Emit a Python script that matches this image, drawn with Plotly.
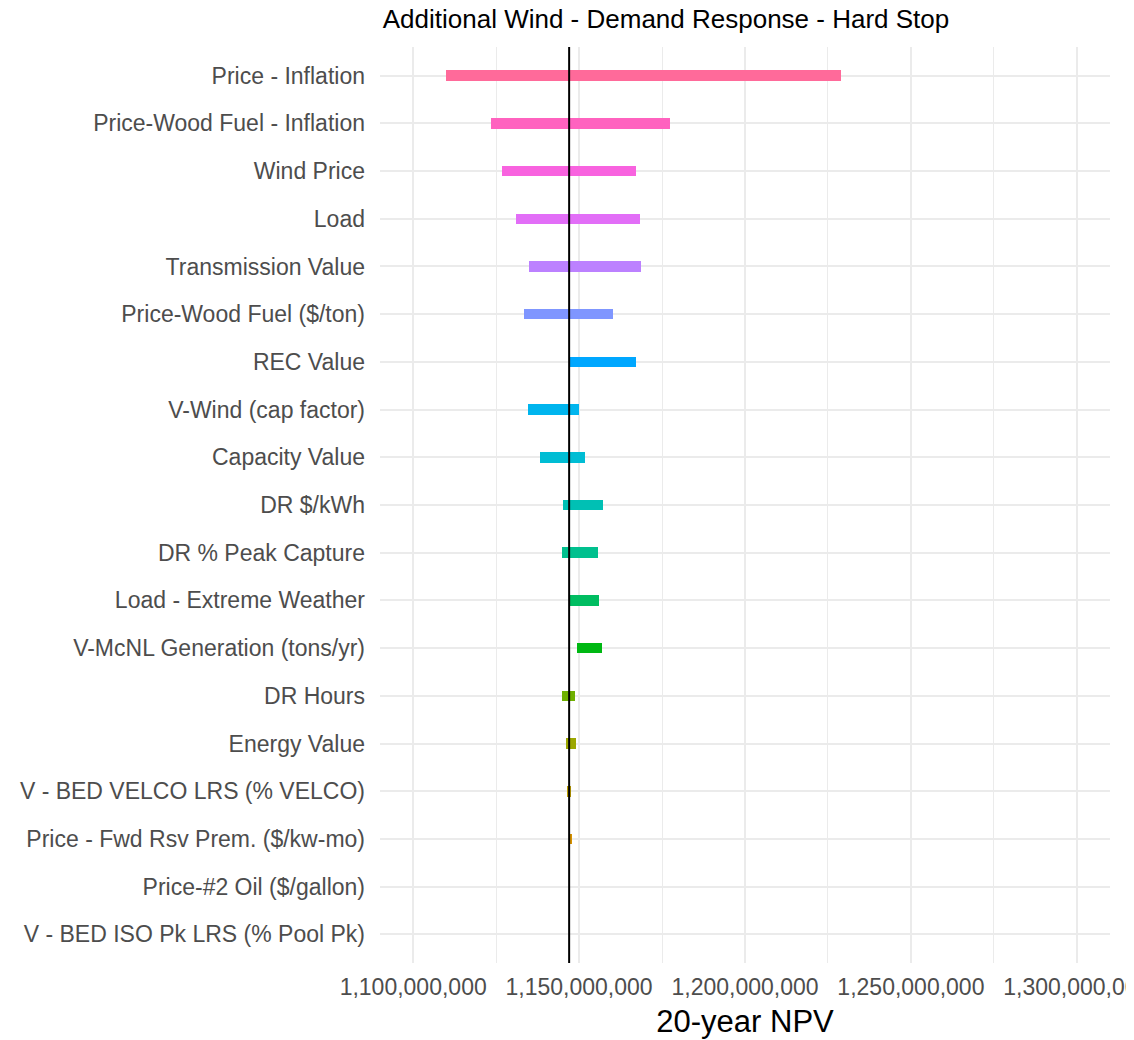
import math
import plotly.graph_objects as go

# ---- data (top to bottom) ----
categories = [
    "Price - Inflation",
    "Price-Wood Fuel - Inflation",
    "Wind Price",
    "Load",
    "Transmission Value",
    "Price-Wood Fuel ($/ton)",
    "REC Value",
    "V-Wind (cap factor)",
    "Capacity Value",
    "DR $/kWh",
    "DR % Peak Capture",
    "Load - Extreme Weather",
    "V-McNL Generation (tons/yr)",
    "DR Hours",
    "Energy Value",
    "V - BED VELCO LRS (% VELCO)",
    "Price - Fwd Rsv Prem. ($/kw-mo)",
    "Price-#2 Oil ($/gallon)",
    "V - BED ISO Pk LRS (% Pool Pk)",
]
low_npv = [
    1109.9e6, 1123.3e6, 1126.9e6, 1130.9e6, 1134.9e6, 1133.4e6, 1147.2e6,
    1134.5e6, 1138.1e6, 1145.0e6, 1144.8e6, 1147.1e6, 1149.4e6, 1144.8e6,
    1146.1e6, 1146.3e6, 1147.0e6, 1147.0e6, 1147.0e6,
]
high_npv = [
    1229.0e6, 1177.3e6, 1167.2e6, 1168.3e6, 1168.7e6, 1160.1e6, 1167.0e6,
    1149.9e6, 1151.7e6, 1157.1e6, 1155.8e6, 1156.0e6, 1156.9e6, 1148.8e6,
    1149.2e6, 1147.7e6, 1148.0e6, 1147.0e6, 1147.0e6,
]
base_npv = 1147.0e6
x_ticks = [1.10e9, 1.15e9, 1.20e9, 1.25e9, 1.30e9]

title_text = "Additional Wind - Demand Response - Hard Stop"
x_title = "20-year NPV"


# ---- ggplot2 default hue palette ----
def hcl_hex(h, c=100.0, l=65.0):
    hr = math.radians(h)
    u = c * math.cos(hr)
    v = c * math.sin(hr)
    Xn, Yn, Zn = 95.047, 100.0, 108.883
    Y = Yn * ((l + 16.0) / 116.0) ** 3
    den = Xn + 15 * Yn + 3 * Zn
    un = 4 * Xn / den
    vn = 9 * Yn / den
    up = u / (13 * l) + un
    vp = v / (13 * l) + vn
    X = Y * 9 * up / (4 * vp)
    Z = Y * (12 - 3 * up - 20 * vp) / (4 * vp)
    x, y, z = X / 100, Y / 100, Z / 100
    r = 3.240479 * x - 1.537150 * y - 0.498535 * z
    g = -0.969256 * x + 1.875992 * y + 0.041556 * z
    b = 0.055648 * x - 0.204043 * y + 1.057311 * z

    def gam(t):
        if t <= 0:
            t = 0.0
        elif t <= 0.0031308:
            t = 12.92 * t
        else:
            t = 1.055 * (t ** (1 / 2.4)) - 0.055
        return max(0, min(255, round(t * 255)))

    return "#%02X%02X%02X" % (gam(r), gam(g), gam(b))


n = len(categories)
hues = [15 + 360 * k / n for k in range(n)]
palette = [hcl_hex(h) for h in hues]
# level 1 is the bottom category
colors = [palette[n - 1 - i] for i in range(n)]

fig = go.Figure()
fig.add_trace(go.Bar(
    y=categories,
    x=[h - l for h, l in zip(high_npv, low_npv)],
    base=low_npv,
    orientation="h",
    width=0.22,
    marker=dict(color=colors, line=dict(width=0)),
    showlegend=False,
))

fig.add_shape(
    type="line", xref="x", yref="paper",
    x0=base_npv, x1=base_npv, y0=0, y1=1,
    line=dict(color="black", width=2),
)

# page body has an 8px margin: compensate
off = 8
grid = "#EBEBEB"
fig.update_layout(
    width=1134, height=1040,
    template="none",
    paper_bgcolor="white", plot_bgcolor="white",
    margin=dict(l=380 - off, r=24 + off, t=47 - off, b=77 + off, autoexpand=False),
    font=dict(family="Liberation Sans, Arial, sans-serif", size=23, color="#4D4D4D"),
    title=dict(
        text=title_text, x=(666 - off) / 1134, xref="container", xanchor="center",
        y=1 - (19 - off) / 1040, yref="container", yanchor="middle",
        font=dict(size=26, color="black"),
    ),
    bargap=0,
)
fig.update_xaxes(
    range=[1.09e9, 1.31e9],
    tickmode="array", tickvals=x_ticks,
    ticktext=[f"{int(v):,}" for v in x_ticks],
    showgrid=True, gridcolor=grid, gridwidth=1.5,
    minor=dict(showgrid=True, gridcolor=grid, gridwidth=1.0,
               tickmode="array",
               tickvals=[v + 2.5e7 for v in [1.075e9] + x_ticks]),
    zeroline=False, showline=False, ticks="",
    tickfont=dict(size=23, color="#4D4D4D"),
    ticklabelstandoff=8,
    ticklabeloverflow="allow",
    automargin=False,
    title=dict(text=x_title, font=dict(size=31, color="black"), standoff=11),
)
fig.update_yaxes(
    type="category", categoryorder="array", categoryarray=categories,
    range=[n - 1 + 0.6, -0.6],
    showgrid=True, gridcolor=grid, gridwidth=1.5,
    zeroline=False, showline=False, ticks="",
    tickfont=dict(size=23, color="#4D4D4D"),
    ticklabelstandoff=14,
    automargin=False,
)

fig.write_html("out.html")
